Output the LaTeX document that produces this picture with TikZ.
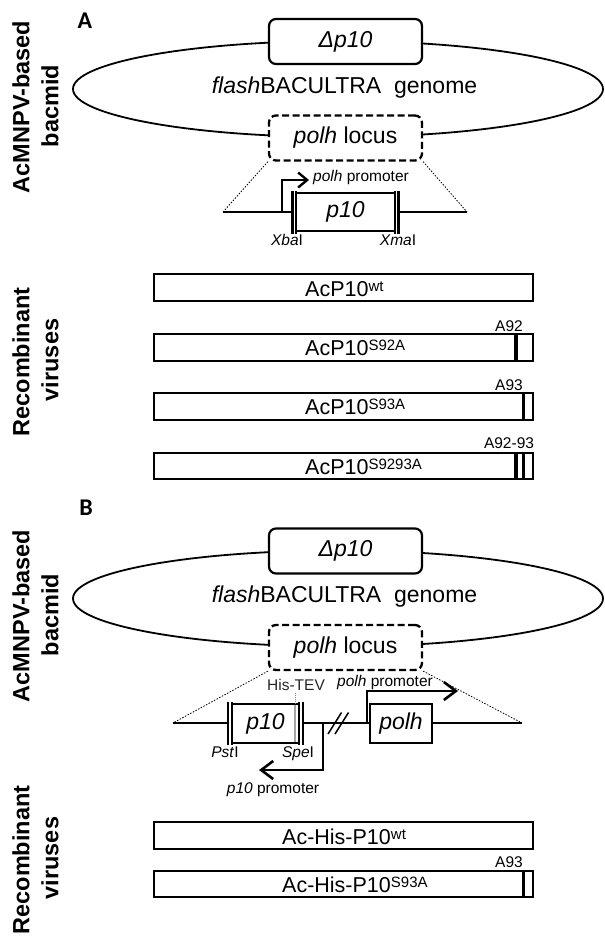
\documentclass[tikz,border=0pt]{standalone}
\usepackage{fontspec}
\setmainfont{Liberation Sans}
\newfontfamily\carlito{Carlito}
\usetikzlibrary{arrows.meta,shapes.geometric}
\newcommand\szmain{\fontsize{23}{27}\selectfont}
\newcommand\szbox{\fontsize{21.5}{25}\selectfont}
\newcommand\szsmall{\fontsize{15.5}{18}\selectfont}
\newcommand\szsup{\fontsize{15}{17}\selectfont}
\newcommand\szside{\fontsize{23.5}{28}\selectfont\bfseries}
\newcommand\szpanel{\carlito\bfseries\fontsize{24}{28}\selectfont}
\newcommand\mysup[1]{\raisebox{5pt}{\szsup #1}}
\begin{document}
\begin{tikzpicture}[x=1pt,y=-1pt,
  genome/.style={draw, ellipse, line width=1.8pt, minimum width=530pt, minimum height=96pt, inner sep=0pt},
  endbox/.style={draw, line width=2.2pt, rounded corners=7pt, fill=white, minimum width=153pt, minimum height=45pt, inner sep=0pt, font=\szmain},
  locusbox/.style={endbox, dash pattern=on 7pt off 3.5pt, line width=2.3pt},
  genebox/.style={draw, line width=2.2pt, fill=white, inner sep=0pt, font=\szmain\itshape},
  virusbox/.style={draw, line width=2.2pt, minimum width=379pt, minimum height=26.5pt, inner sep=0pt},
  dna/.style={line width=2.2pt},
  site/.style={line width=2.2pt},
  zoomline/.style={line width=0.8pt, dash pattern=on 1.5pt off 1.5pt},
  prom/.style={line width=2.4pt, -{Straight Barb[length=9pt,width=15pt]}},
  bigprom/.style={line width=2.6pt, -{Straight Barb[length=12pt,width=18pt]}},
  mut/.style={line width=3.5pt},
  small/.style={inner sep=0pt, anchor=base, font=\szsmall},
  maintext/.style={inner sep=0pt, anchor=base, font=\szmain},
  vlabel/.style={inner sep=0pt, anchor=base west, font=\szbox},
  side/.style={inner sep=0pt, anchor=base, rotate=90, font=\szside},
  panel/.style={inner sep=0pt, anchor=base, font=\szpanel}
]
\useasboundingbox (0,0) rectangle (605,937);

% ================= Panel A =================
\node[panel] (labA) at (85,28.3) {A};
\node[side] (sideA1) at (29.3,107) {AcMNPV-based};
\node[side] (sideA2) at (58.3,106) {bacmid};
\node[genome] (genA) at (338,89) {};
\node[endbox] (dA) at (345.5,41.5) {\textit{Δp10}};
\node[maintext] (gA) at (344.5,93) {\textit{flash}BACULTRA\ \ genome};
\node[locusbox] (lA) at (345.5,138) {\textit{polh} locus};

\coordinate (aL) at (223,212);
\coordinate (aR) at (467,212);
\draw[zoomline] (lA.south west) -- (aL);
\draw[zoomline] (lA.south east) -- (aR);
\node[genebox, minimum width=99pt, minimum height=38pt] (pA) at (345.5,212) {p10};
\draw[dna] (aL) -- (292.5,212);
\draw[dna] (398.5,212) -- (aR);
\draw[site] (292.5,191) -- (292.5,234);
\draw[site] (296,191) -- (296,234);
\draw[site] (395,191) -- (395,234);
\draw[site] (398.5,191) -- (398.5,234);
\draw[prom] (282,212) -- (282,180) -- (309,180);
\node[small, anchor=base west] (ppA) at (313,181) {\textit{polh} promoter};
\node[small] (xba) at (287,245) {\textit{Xba}I};
\node[small] (xma) at (398,245) {\textit{Xma}I};

\node[side] (sideA3) at (29.3,362) {Recombinant};
\node[side] (sideA4) at (58.3,360) {viruses};

\node[virusbox] (v1) at (343.5,287.5) {};
\node[vlabel] (v1t) at (305,296) {AcP10\mysup{wt}};
\node[virusbox] (v2) at (343.5,347.5) {};
\node[vlabel] (v2t) at (305,355.5) {AcP10\mysup{S92A}};
\draw[mut] (516,334.5) -- (516,360.5);
\node[small] (m2) at (509,331.5) {A92};
\node[virusbox] (v3) at (343.5,406.5) {};
\node[vlabel] (v3t) at (305,414.5) {AcP10\mysup{S93A}};
\draw[mut] (523.5,393.5) -- (523.5,419.5);
\node[small] (m3) at (509,390) {A93};
\node[virusbox] (v4) at (343.5,466) {};
\node[vlabel] (v4t) at (305,474) {AcP10\mysup{S9293A}};
\draw[mut] (516,453) -- (516,479);
\draw[mut] (523.5,453) -- (523.5,479);
\node[small] (m4) at (509,448.5) {A92-93};

% ================= Panel B =================
\node[panel] (labB) at (86,515.5) {B};
\node[side] (sideB1) at (29.3,616) {AcMNPV-based};
\node[side] (sideB2) at (58.3,615) {bacmid};
\node[genome] (genB) at (338,598.5) {};
\node[endbox] (dB) at (345.5,551) {\textit{Δp10}};
\node[maintext] (gB) at (344.5,602.5) {\textit{flash}BACULTRA\ \ genome};
\node[locusbox] (lB) at (345.5,647.5) {\textit{polh} locus};

\coordinate (bL) at (173,723);
\coordinate (bR) at (522,723);
\draw[zoomline] (lB.south west) -- (bL);
\draw[zoomline] (lB.south east) -- (bR);
\draw[dna] (bL) -- (228,723);
\draw[dna] (303,723) -- (370,723);
\draw[dna] (432,723) -- (bR);
\node[genebox, minimum width=67pt, minimum height=39pt] (pB) at (265.5,723.5) {p10};
\draw[gray!70, line width=1.3pt] (295,705) -- (295,742);
\draw[gray, line width=0.8pt, dash pattern=on 1pt off 1pt] (295,704) -- (295,692);
\node[small, text=black!85] (his) at (296,690.5) {His-TEV};
\draw[site] (228,702) -- (228,745);
\draw[site] (232,702) -- (232,745);
\draw[site] (299,702) -- (299,745);
\draw[site] (303,702) -- (303,745);
\draw[line width=1.5pt] (328,734) -- (341.5,712.5);
\draw[line width=1.5pt] (335,734) -- (348.5,712.5);
\node[genebox, minimum width=62pt, minimum height=39pt] (polhB) at (401,723.5) {polh};
\draw[bigprom] (323,723) -- (323,770) -- (259,770);
\node[small] (ppB2) at (273,793) {\textit{p10} promoter};
\draw[bigprom] (367,723) -- (367,691) -- (458,691);
\node[small, anchor=base west] (ppB) at (337,686) {\textit{polh} promoter};
\node[small] (pst) at (225,757) {\textit{Pst}I};
\node[small] (spe) at (298,757) {\textit{Spe}I};

\node[side] (sideB3) at (29.3,860) {Recombinant};
\node[side] (sideB4) at (58.3,858) {viruses};

\node[virusbox] (w1) at (343.5,835.5) {};
\node[vlabel] (w1t) at (282,844) {Ac-His-P10\mysup{wt}};
\node[virusbox] (w2) at (343.5,884) {};
\node[vlabel] (w2t) at (282,892.5) {Ac-His-P10\mysup{S93A}};
\draw[mut] (523.5,871) -- (523.5,897);
\node[small] (mb2) at (509,867) {A93};
\end{tikzpicture}
\end{document}
